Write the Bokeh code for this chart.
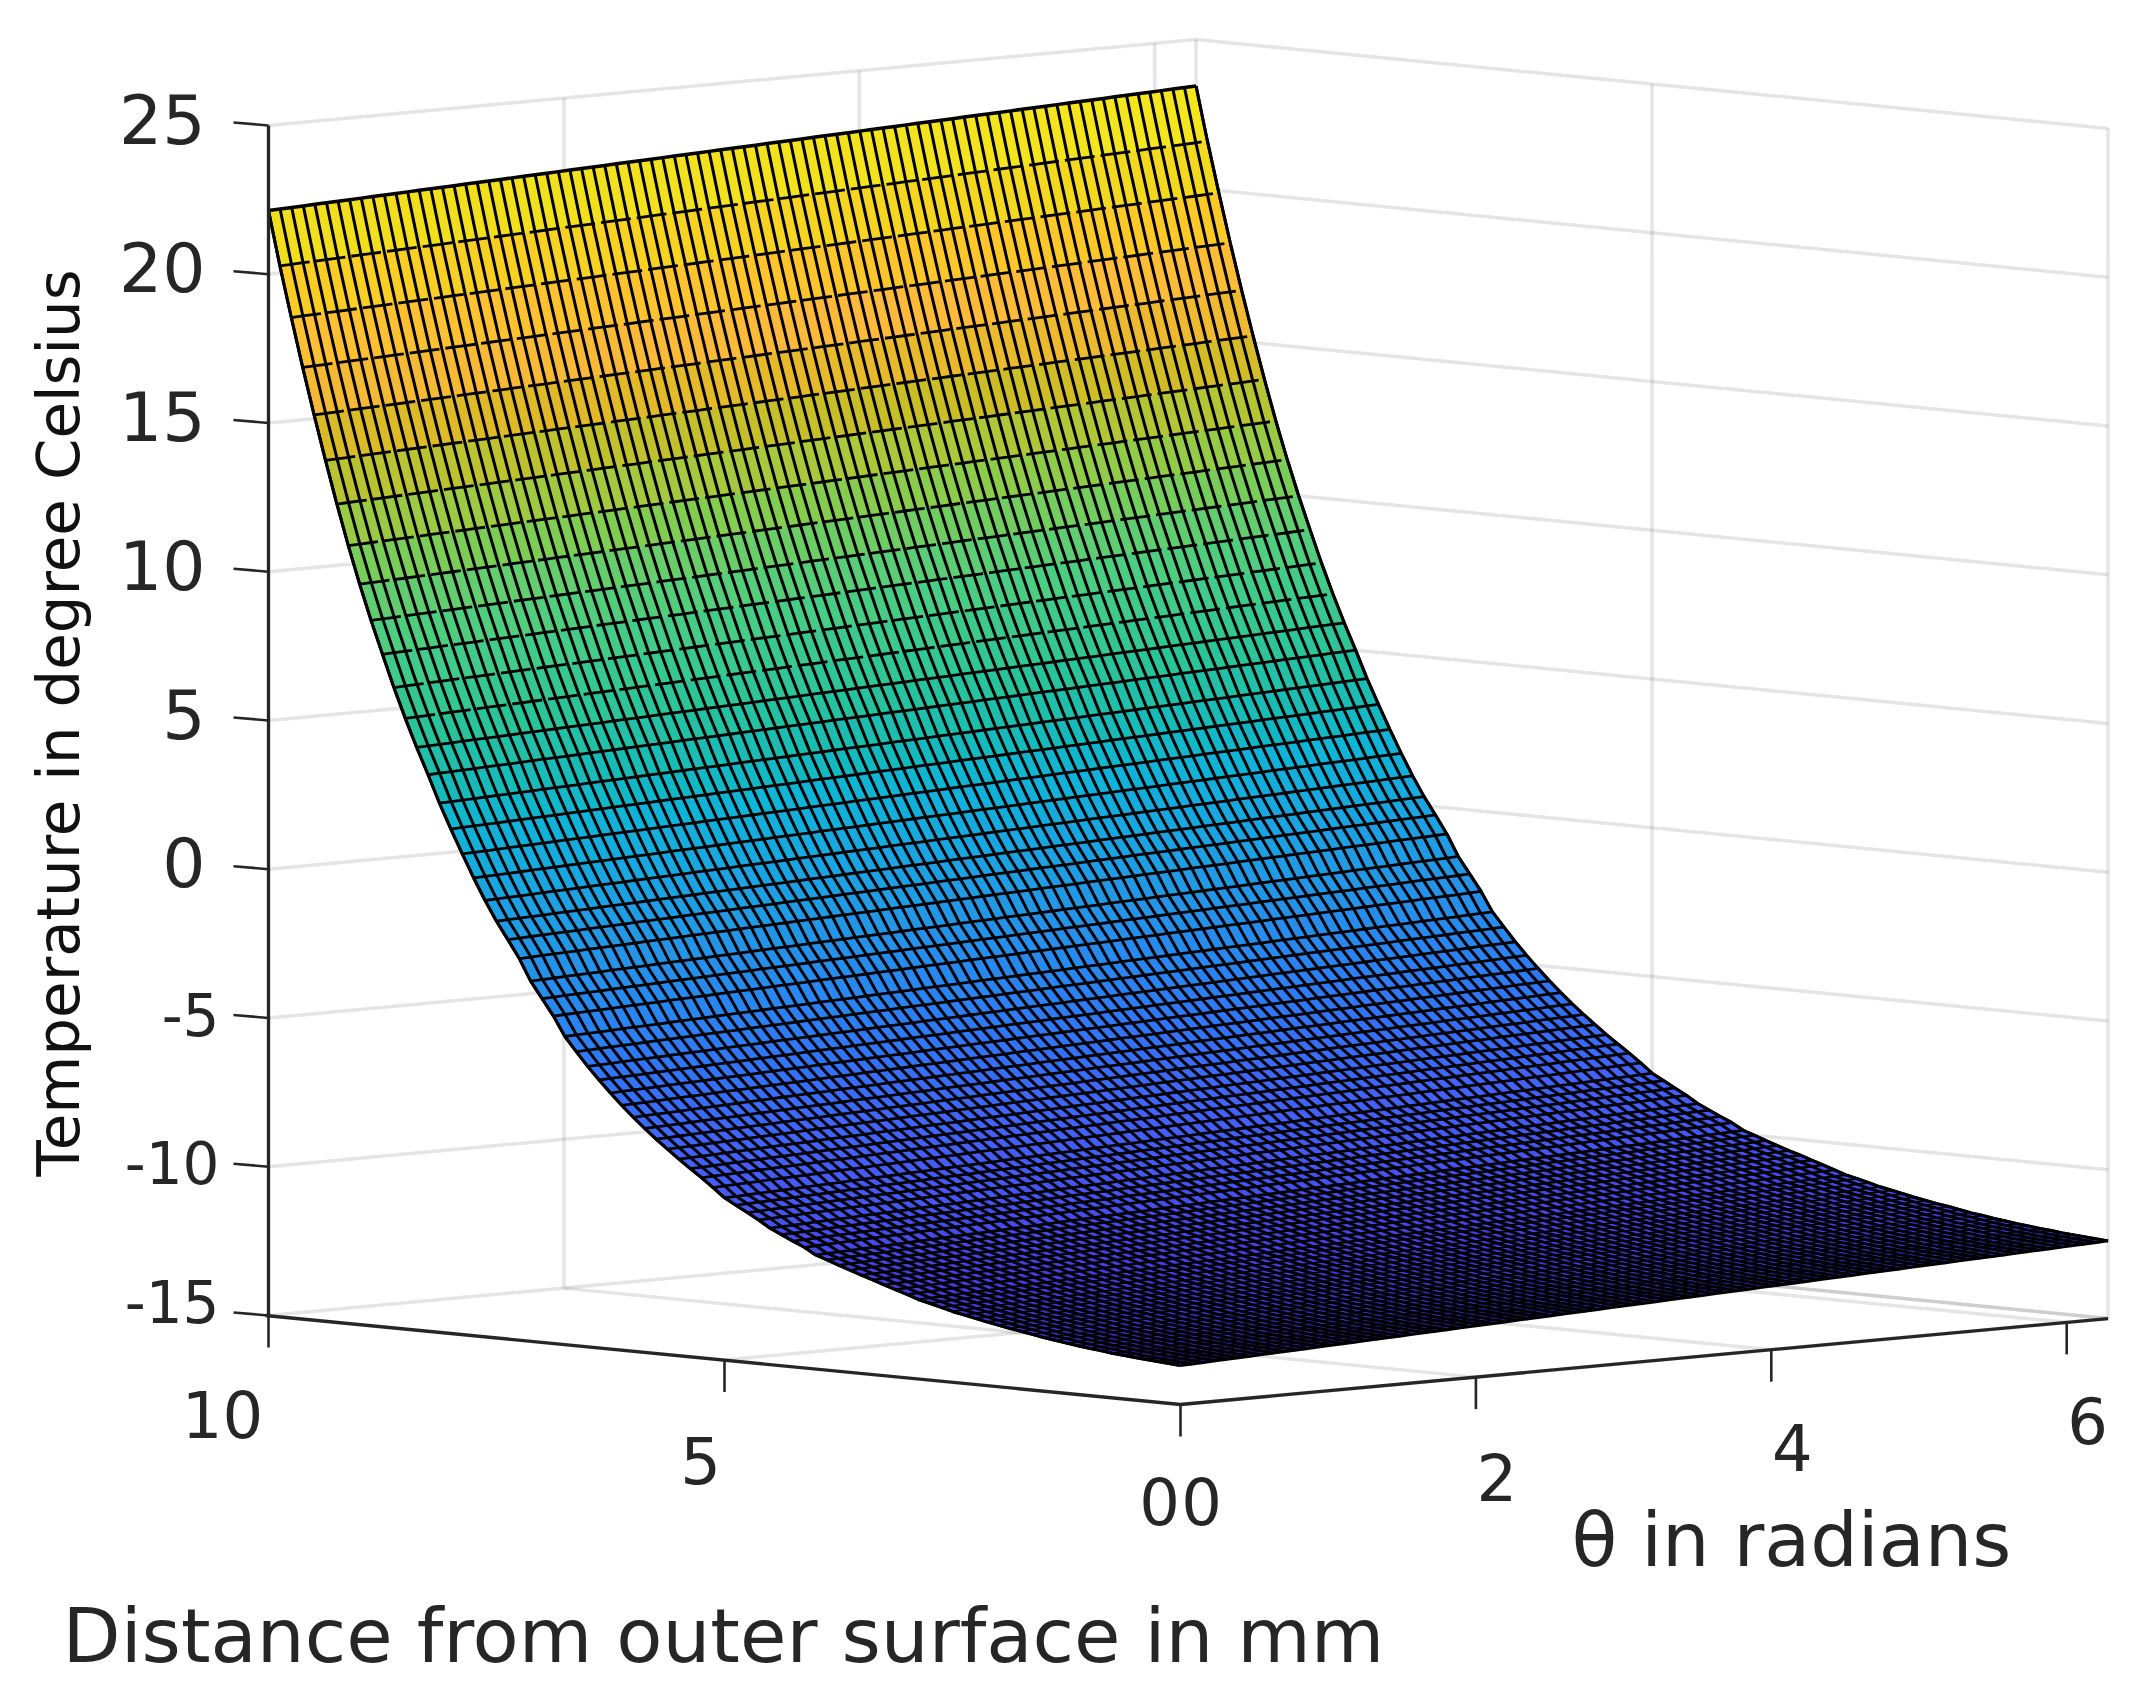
import numpy as np
from bokeh.core.properties import value
from bokeh.embed import file_html
from bokeh.models import Range1d
from bokeh.plotting import figure
from bokeh.resources import INLINE

# Temperature along the theta = 0 edge, read row by row from distance 10 mm down to 0 mm
temp_at_theta0 = [
    22.14, 20.32, 18.62, 16.98, 15.42, 13.93, 12.50, 11.14, 9.88, 8.70, 7.60, 6.52, 5.52, 4.58, 3.70, 2.78,
    1.95, 1.15, 0.38, -0.34, -1.00, -1.58, -2.18, -2.90, -3.45, -4.00, -4.65, -5.12, -5.58, -6.00, -6.40, -6.78,
    -7.14, -7.48, -7.80, -8.10, -8.40, -8.68, -8.95, -9.24, -9.55, -9.76, -9.97, -10.18, -10.42, -10.60, -10.78, -10.95,
    -11.17, -11.30, -11.44, -11.57, -11.70, -11.82, -11.95, -12.07, -12.20, -12.33, -12.42, -12.52, -12.62, -12.70, -12.78, -12.86,
    -12.93, -13.00, -13.06, -13.13, -13.20, -13.25, -13.31, -13.36, -13.41, -13.45, -13.50, -13.53, -13.57, -13.60, -13.63, -13.66, -13.69,
]
# Rise of the surface across theta, read at these angles
rise_theta = [0.0, 3.14, 6.28]
rise_temp = [0.0, 0.65, 1.30]
theta_columns = 81

z_ticks = [25, 20, 15, 10, 5, 0, -5, -10, -15]
theta_ticks = [0, 2, 4, 6]
dist_ticks = [10, 5, 0]
theta_max = 6.28
dist_max = 10

color_temp = [-13.7, -12, -10, -8, -6, -4, -2, 0, 2, 3, 5, 8, 9.5, 11, 12.5, 14, 15, 17, 19, 21, 23.4]
color_r = [65, 70, 70, 65, 50, 40, 35, 25, 15, 20, 40, 75, 100, 130, 170, 200, 225, 255, 253, 240, 245]
color_g = [40, 60, 85, 100, 115, 135, 150, 165, 180, 185, 195, 205, 205, 205, 200, 190, 185, 185, 200, 220, 235]
color_b = [190, 225, 245, 255, 250, 240, 230, 225, 215, 190, 155, 130, 110, 80, 60, 40, 40, 60, 40, 30, 30]

INK = "#262626"
FONT = value("DejaVu Sans")


def sx(theta, dist):
    return 1180 + 147.7 * np.asarray(theta, float) - 91.2 * np.asarray(dist, float)


def sy(theta, dist, z):
    return (1404 - 13.69 * np.asarray(theta, float) - 8.9 * np.asarray(dist, float)
            - 29.75 * (np.asarray(z, float) + 15))


p = figure(width=2150, height=1692, x_range=Range1d(0, 2150), y_range=Range1d(1692, 0),
           output_backend="svg", toolbar_location=None, min_border=0, outline_line_color=None)
p.axis.visible = False
p.grid.visible = False

# Grid of the walls and the floor
gx, gy = [], []
for z in z_ticks:
    gx.append([sx(0, dist_max), sx(theta_max, dist_max), sx(theta_max, 0)])
    gy.append([sy(0, dist_max, z), sy(theta_max, dist_max, z), sy(theta_max, 0, z)])
for t in theta_ticks[1:] + [theta_max]:
    gx.append([sx(t, 0), sx(t, dist_max), sx(t, dist_max)])
    gy.append([sy(t, 0, -15), sy(t, dist_max, -15), sy(t, dist_max, 25)])
for d in dist_ticks[1:]:
    gx.append([sx(0, d), sx(theta_max, d), sx(theta_max, d)])
    gy.append([sy(0, d, -15), sy(theta_max, d, -15), sy(theta_max, d, 25)])
p.multi_line([list(map(float, a)) for a in gx], [list(map(float, a)) for a in gy],
             line_color=INK, line_alpha=0.12, line_width=3.5)

# Surface
temps = np.array(temp_at_theta0)
dists = np.linspace(dist_max, 0, len(temps))
thetas = np.linspace(0, theta_max, theta_columns)
rise = np.interp(thetas, rise_theta, rise_temp)
Z = temps[:, None] + rise[None, :]
T, D = np.meshgrid(thetas, dists)
SX, SY = sx(T, D), sy(T, D, Z)

xs, ys, colors = [], [], []
for i in range(len(dists) - 1):
    for j in range(theta_columns - 1):
        xs.append([SX[i, j], SX[i, j + 1], SX[i + 1, j + 1], SX[i + 1, j]])
        ys.append([SY[i, j], SY[i, j + 1], SY[i + 1, j + 1], SY[i + 1, j]])
        m = Z[i:i + 2, j:j + 2].mean()
        colors.append("#%02x%02x%02x" % (round(np.interp(m, color_temp, color_r)),
                                         round(np.interp(m, color_temp, color_g)),
                                         round(np.interp(m, color_temp, color_b))))
p.patches(xs, ys, fill_color=colors, line_color=colors, line_width=0.6)

# Mesh lines: the lines across theta thin out where the rows crowd together
p.multi_line([list(SX[:, j]) for j in range(theta_columns)], [list(SY[:, j]) for j in range(theta_columns)],
             line_color="black", line_width=3.0)
row_gap = np.abs(np.gradient(SY[:, 0]))
row_width = np.minimum(2.8, 0.5 * row_gap)
upper = [i for i in range(1, len(dists)) if temps[i] > 5]
lower = [i for i in range(1, len(dists)) if temps[i] <= 5]
p.multi_line([list(SX[i, :]) for i in upper], [list(SY[i, :]) for i in upper],
             line_color="black", line_width=2.8, line_dash="30 6")
p.multi_line([list(SX[i, :]) for i in lower], [list(SY[i, :]) for i in lower],
             line_color="black", line_width=[float(row_width[i]) for i in lower])
p.line(SX[0, :], SY[0, :], line_color="black", line_width=3.5)
p.line(SX[:, 0], SY[:, 0], line_color="black", line_width=3)
p.line(SX[:, -1], SY[:, -1], line_color="black", line_width=3)
p.line(SX[-1, :], SY[-1, :], line_color="black", line_width=3)

# Axes
ax_x = [[float(sx(0, dist_max)), float(sx(0, dist_max))],
        [float(sx(0, dist_max)) - 3, float(sx(0, 0)), float(sx(theta_max, 0))]]
ax_y = [[float(sy(0, dist_max, 25)), float(sy(0, dist_max, -15))],
        [float(sy(0, dist_max, -15)), float(sy(0, 0, -15)), float(sy(theta_max, 0, -15))]]
p.multi_line(ax_x, ax_y, line_color=INK, line_width=3.3)

tx, ty = [], []
for z in z_ticks:
    y0 = float(sy(0, dist_max, z))
    x0 = float(sx(0, dist_max))
    tx.append([x0, x0 - 35]); ty.append([y0, y0 - 3])
for d in dist_ticks:
    x0, y0 = float(sx(0, d)), float(sy(0, d, -15))
    tx.append([x0, x0]); ty.append([y0, y0 + 32])
for t in theta_ticks[1:]:
    x0, y0 = float(sx(t, 0)), float(sy(t, 0, -15))
    tx.append([x0, x0]); ty.append([y0, y0 + 32])
p.multi_line(tx, ty, line_color=INK, line_width=2.6)

# Tick labels
pos = [z for z in z_ticks if z >= 0]
neg = [z for z in z_ticks if z < 0]
p.text([205] * len(pos), [float(sy(0, dist_max, z)) - 7 for z in pos], text=[str(z) for z in pos],
       text_font=FONT, text_font_size="68px", text_color=INK, text_align="right", text_baseline="middle")
p.text([219] * len(neg), [float(sy(0, dist_max, z)) - (14 if z == -15 else 4) for z in neg], text=[str(z) for z in neg],
       text_font=FONT, text_font_size="58px", text_color=INK, text_align="right", text_baseline="middle")
p.text([float(sx(0, d)) + o for d, o in zip(dist_ticks, [-46, -24, -21])],
       [float(sy(0, d, -15)) + o - 25 for d, o in zip(dist_ticks, [124, 125, 122])],
       text=[str(d) for d in dist_ticks], text_font=FONT, text_font_size="64px", text_color=INK,
       text_align="center", text_baseline="alphabetic")
p.text([float(sx(t, 0)) + 21 for t in theta_ticks],
       [float(sy(t, 0, -15)) + o - 25 for t, o in zip(theta_ticks, [122, 125, 123, 123])],
       text=[str(t) for t in theta_ticks], text_font=FONT, text_font_size="64px", text_color=INK,
       text_align="center", text_baseline="alphabetic")

# Axis titles
p.text([1571], [1539], text=["θ in radians"], text_font=FONT, text_font_size="75px", text_color=INK,
       text_baseline="alphabetic")
p.text([62], [1635], text=["Distance from outer surface in mm"], text_font=FONT, text_font_size="75.5px",
       text_color=INK, text_baseline="alphabetic")
p.text([58], [1176], text=["Temperature in degree Celsius"], angle=np.pi / 2, text_font=FONT,
       text_font_size="59.5px", text_color="#111111", text_baseline="alphabetic")

open("out.html", "w").write(file_html(p, INLINE))
